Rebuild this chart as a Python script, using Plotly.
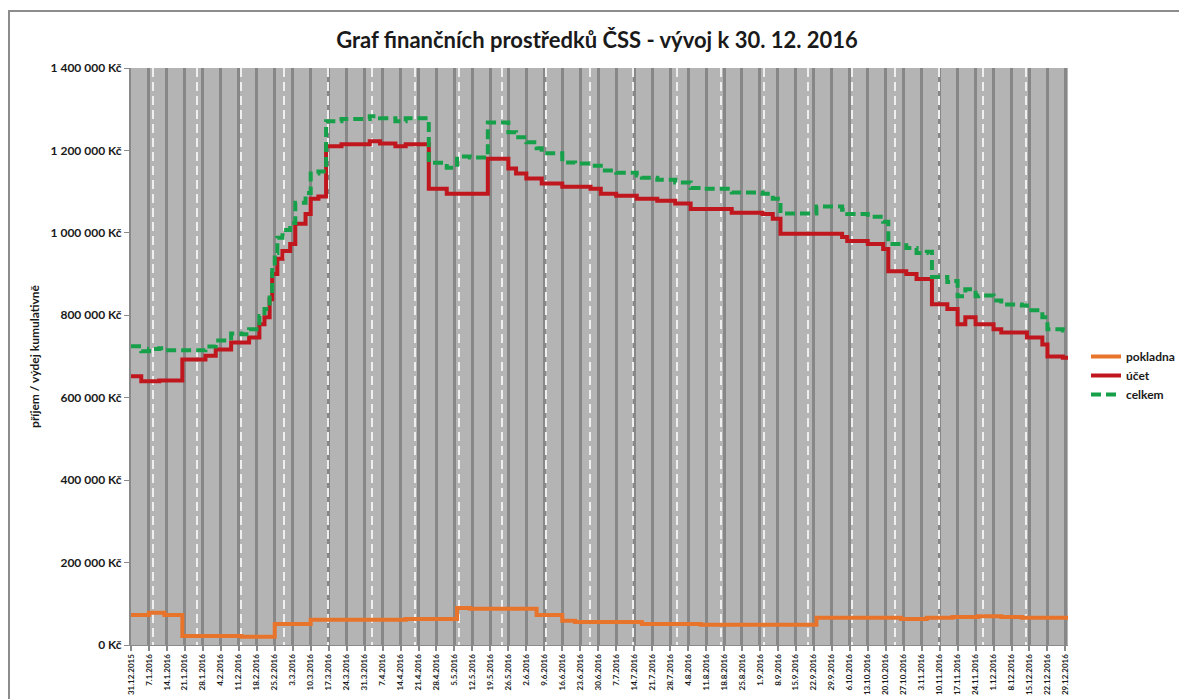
import plotly.graph_objects as go
from datetime import datetime

# ---- data (change points of daily step series) ----
dates = ["2015-12-31","2016-01-04","2016-01-07","2016-01-11","2016-01-13","2016-01-20","2016-01-29",
         "2016-02-02","2016-02-08","2016-02-12","2016-02-15","2016-02-19","2016-02-21","2016-02-23",
         "2016-02-24","2016-02-25","2016-02-26","2016-02-28","2016-03-02","2016-03-04","2016-03-08",
         "2016-03-10","2016-03-13","2016-03-16","2016-03-22","2016-04-02","2016-04-06","2016-04-12",
         "2016-04-16","2016-04-25","2016-05-02","2016-05-06","2016-05-11","2016-05-18","2016-05-26",
         "2016-05-29","2016-06-02","2016-06-06","2016-06-08","2016-06-16","2016-06-21","2016-06-27",
         "2016-07-01","2016-07-07","2016-07-15","2016-07-17","2016-07-23","2016-07-30","2016-08-05",
         "2016-08-09","2016-08-21","2016-09-02","2016-09-06","2016-09-09","2016-09-23","2016-10-03",
         "2016-10-05","2016-10-13","2016-10-19","2016-10-21","2016-10-26","2016-10-28","2016-11-01",
         "2016-11-05","2016-11-07","2016-11-13","2016-11-15","2016-11-17","2016-11-20","2016-11-24",
         "2016-11-25","2016-12-01","2016-12-04","2016-12-12","2016-12-14","2016-12-20","2016-12-22",
         "2016-12-28","2016-12-30"]

pokladna = [73000,73000,78000,78000,73000,22000,22000,
            22000,22000,20000,20000,20000,20000,20000,
            20000,51000,51000,51000,51000,51000,51000,
            61000,61000,61000,61000,61000,61000,61000,
            63000,63000,63000,90000,88000,88000,88000,
            88000,88000,73000,73000,59000,56000,56000,
            56000,56000,56000,51000,51000,51000,51000,
            49000,49000,49000,49000,49000,66000,66000,
            66000,66000,66000,66000,63000,63000,63000,
            66000,66000,66000,68000,68000,68000,68000,
            70000,70000,68000,66000,66000,66000,66000,
            66000,66000]

ucet = [652000,640000,640000,642000,642000,693000,702000,
        717000,734000,734000,746000,778000,795000,839000,
        900000,900000,937000,956000,973000,1022000,1046000,
        1083000,1088000,1210000,1215000,1222000,1217000,1210000,
        1215000,1107000,1095000,1095000,1095000,1180000,1156000,
        1144000,1132000,1132000,1120000,1112000,1112000,1107000,
        1095000,1090000,1083000,1083000,1078000,1071000,1058000,
        1058000,1049000,1046000,1034000,998000,998000,990000,
        980000,973000,961000,907000,907000,900000,888000,
        888000,827000,815000,815000,778000,795000,778000,
        778000,766000,758000,758000,746000,729000,700000,
        697000,697000]

celkem = [725000,713000,718000,720000,715000,715000,724000,
          739000,756000,754000,766000,798000,815000,859000,
          920000,951000,988000,1007000,1024000,1073000,1097000,
          1144000,1149000,1271000,1276000,1283000,1278000,1271000,
          1278000,1170000,1158000,1185000,1183000,1268000,1244000,
          1232000,1220000,1205000,1193000,1171000,1168000,1163000,
          1151000,1146000,1139000,1134000,1129000,1122000,1109000,
          1107000,1098000,1095000,1083000,1047000,1064000,1056000,
          1046000,1039000,1027000,973000,970000,963000,951000,
          954000,893000,881000,883000,846000,863000,846000,
          848000,836000,826000,824000,812000,795000,766000,
          763000,763000]

tick_labels = ["31.12.2015","7.1.2016","14.1.2016","21.1.2016","28.1.2016","4.2.2016","11.2.2016",
               "18.2.2016","25.2.2016","3.3.2016","10.3.2016","17.3.2016","24.3.2016","31.3.2016",
               "7.4.2016","14.4.2016","21.4.2016","28.4.2016","5.5.2016","12.5.2016","19.5.2016",
               "26.5.2016","2.6.2016","9.6.2016","16.6.2016","23.6.2016","30.6.2016","7.7.2016",
               "14.7.2016","21.7.2016","28.7.2016","4.8.2016","11.8.2016","18.8.2016","25.8.2016",
               "1.9.2016","8.9.2016","15.9.2016","22.9.2016","29.9.2016","6.10.2016","13.10.2016",
               "20.10.2016","27.10.2016","3.11.2016","10.11.2016","17.11.2016","24.11.2016",
               "1.12.2016","8.12.2016","15.12.2016","22.12.2016","29.12.2016"]
tick_vals = [datetime.strptime(t, "%d.%m.%Y").strftime("%Y-%m-%d") for t in tick_labels]

y_tick_vals = [0, 200000, 400000, 600000, 800000, 1000000, 1200000, 1400000]
y_tick_labels = ["0 Kč", "200 000 Kč", "400 000 Kč", "600 000 Kč", "800 000 Kč",
                 "1 000 000 Kč", "1 200 000 Kč", "1 400 000 Kč"]

FONT = "Lato"
# page body has an 8px margin; compensate so the plot area lands at x 131..1068, y 68..645
OFF = 8
W, H = 1187, 699
L, T = 131 - OFF, 68 - OFF
PW, PH = 937, 577
R = W - L - PW
B = H - T - PH

fig = go.Figure()
fig.add_trace(go.Scatter(x=dates, y=pokladna, name="<b>pokladna</b>", mode="lines", line_shape="hv",
                         line=dict(color="#E8732A", width=4)))
fig.add_trace(go.Scatter(x=dates, y=ucet, name="<b>účet</b>", mode="lines", line_shape="hv",
                         line=dict(color="#C0161E", width=4)))
fig.add_trace(go.Scatter(x=dates, y=celkem, name="<b>celkem</b>", mode="lines", line_shape="hv",
                         line=dict(color="#16A04A", width=4, dash="10px,5px")))
# helper (empty) trace for the secondary grid axis
fig.add_trace(go.Scatter(x=[], y=[], xaxis="x2", showlegend=False, hoverinfo="skip"))

fig.update_layout(
    width=W, height=H,
    margin=dict(l=L, r=R, t=T, b=B),
    paper_bgcolor="white",
    plot_bgcolor="#B4B4B4",
    font=dict(family=FONT, color="#1a1a1a"),
    title=dict(text="<b>Graf finančních prostředků ČSS - vývoj k 30. 12. 2016</b>",
               x=(597 - OFF) / W, xref="container", xanchor="center",
               y=1 - (40 - OFF) / H, yref="container", yanchor="middle",
               font=dict(family=FONT, size=22, color="#1a1a1a")),
    xaxis=dict(type="date", range=["2015-12-31", "2016-12-30"],
               tickmode="array", tickvals=tick_vals, ticktext=[f"<b>{t}</b>" for t in tick_labels],
               tickangle=-90, tickfont=dict(family=FONT, size=8, color="#1a1a1a"),
               ticks="outside", ticklen=5, tickwidth=2, tickcolor="#8a8a8a",
               showgrid=True, gridcolor="#878787", gridwidth=3,
               showline=True, linecolor="#8a8a8a", linewidth=1, zeroline=False),
    xaxis2=dict(overlaying="x", anchor="y", range=[0, 365], tick0=8.7, dtick=17,
                showticklabels=False, ticks="", showgrid=True, gridcolor="#EFEFEF",
                griddash="9px,5px", gridwidth=1.5, zeroline=False, showline=False),
    yaxis=dict(range=[0, 1400000], tickmode="array", tickvals=y_tick_vals,
               ticktext=[f"<b>{t}</b>" for t in y_tick_labels],
               tickfont=dict(family=FONT, size=12, color="#1a1a1a"),
               ticks="outside", ticklen=5, tickcolor="#8a8a8a",
               showgrid=False, zeroline=False,
               showline=True, linecolor="#8a8a8a", linewidth=2,
               title=dict(text="<b>příjem / výdej kumulativně</b>", standoff=8,
                          font=dict(family=FONT, size=12, color="#1a1a1a"))),
    legend=dict(x=(1086 - 131) / PW, y=(645 - 342) / PH, xanchor="left", yanchor="top",
                font=dict(family=FONT, size=12, color="#1a1a1a"),
                bgcolor="rgba(0,0,0,0)", tracegroupgap=0),
    showlegend=True,
)

# outer chart border
fig.add_shape(type="rect", xref="paper", yref="paper",
              x0=(9 - 131) / PW, x1=(1200 - 131) / PW,
              y0=-(715 - 645) / PH, y1=1 + (68 - 11) / PH,
              line=dict(color="#8c8c8c", width=2), fillcolor="rgba(0,0,0,0)", layer="below")

fig.write_html("out.html")
